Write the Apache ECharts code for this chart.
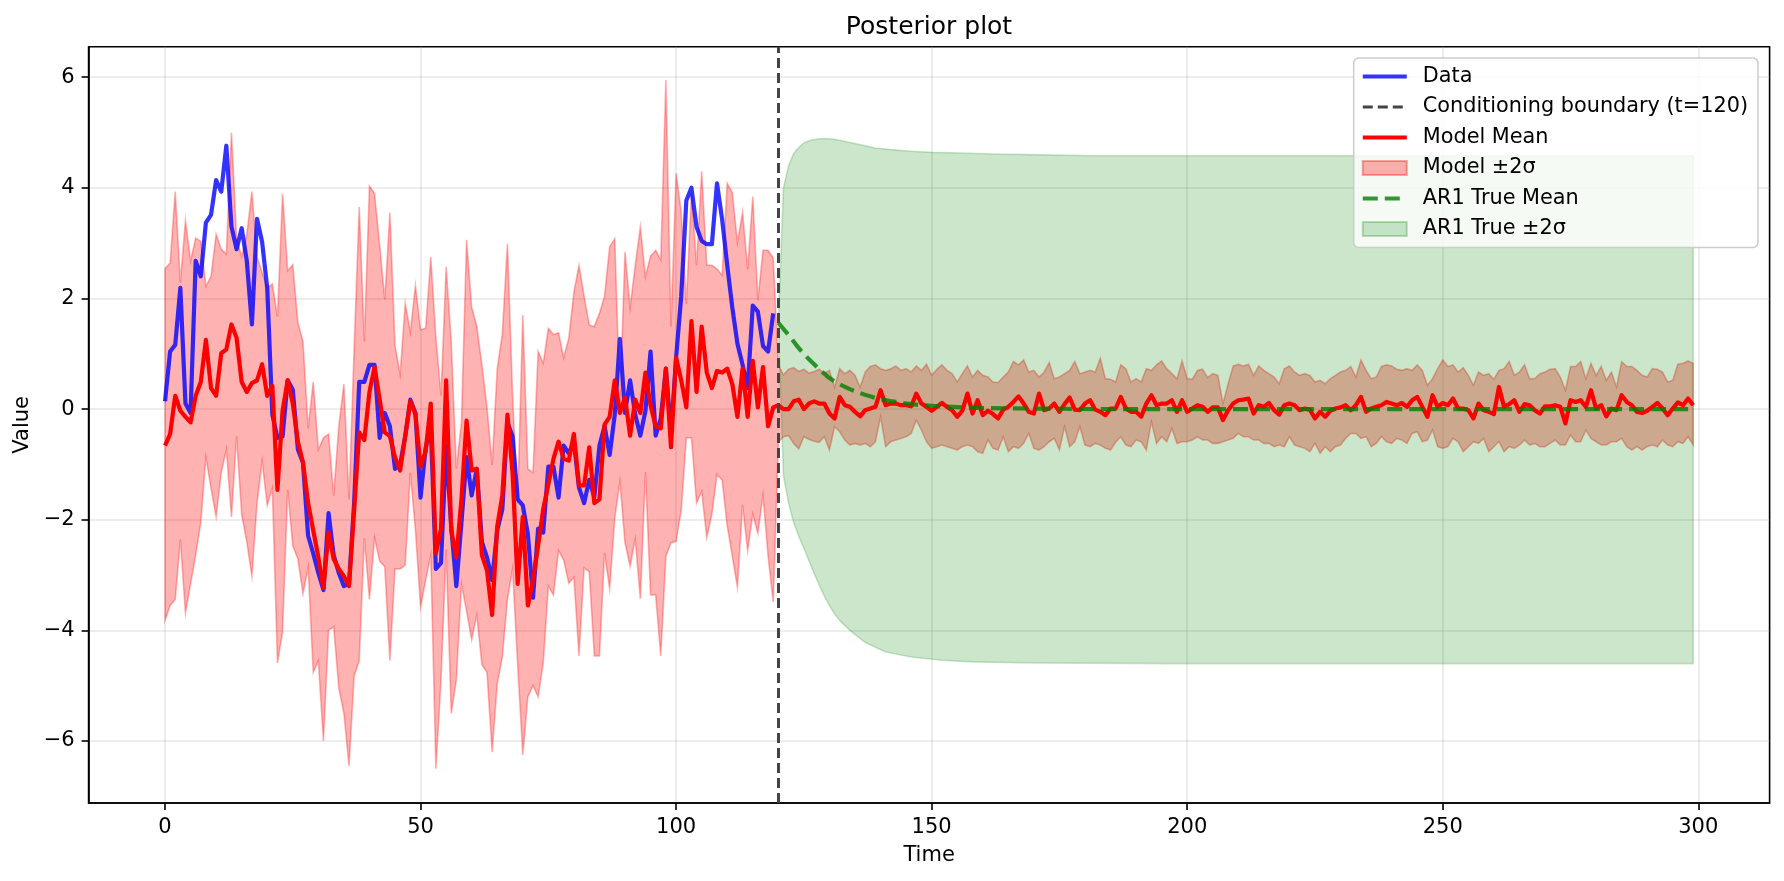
<!DOCTYPE html>
<html>
<head>
<meta charset="utf-8">
<script src="https://cdn.jsdelivr.net/npm/echarts@6/dist/echarts.min.js"></script>
<style>
html, body { margin: 0; padding: 0; background: #fff; }
#chart { width: 1784px; height: 881px; }
</style>
</head>
<body>
<div id="chart"></div>
<script>
var FONT = 'DejaVu Sans';

var xTicks = [0, 50, 100, 150, 200, 250, 300];
var yTicks = [-6, -4, -2, 0, 2, 4, 6];
var boundaryT = 120;

// observed series, t = 0..119
var observed = [
  0.14, 1.04, 1.16, 2.19, 0.1, -0.07, 2.68, 2.4, 3.37, 3.51,
  4.14, 3.93, 4.76, 3.3, 2.89, 3.27, 2.68, 1.53, 3.44, 3.02,
  2.19, -0.1, -0.52, -0.49, 0.52, 0.35, -0.73, -0.97, -2.29, -2.61,
  -2.96, -3.27, -1.88, -2.64, -2.96, -3.2, -3.16, -1.7, 0.49, 0.49,
  0.8, 0.8, -0.52, -0.07, -0.31, -1.08, -1.01, -0.49, 0.17, -0.07,
  -1.6, -0.7, -0.31, -2.89, -2.78, -0.66, -2.12, -3.2, -2.05, -0.87,
  -1.56, -1.08, -2.4, -2.68, -3.09, -2.19, -1.81, -0.24, -0.49, -1.63,
  -1.74, -2.26, -3.41, -2.16, -2.23, -1.04, -1.04, -1.6, -0.66, -0.8,
  -0.59, -1.42, -1.7, -1.28, -1.59, -0.66, -0.31, -0.83, -0.1, 1.27,
  -0.07, 0.52, -0.1, -0.48, -0.03, 1.04, -0.48, -0.17, 0.73, -0.45,
  0.93, 2.04, 3.77, 4.0, 3.29, 3.04, 2.98, 2.98, 4.08, 3.43,
  2.6, 1.83, 1.18, 0.8, 0.38, 1.87, 1.76, 1.14, 1.04, 1.73
];

// model posterior mean, t = 0..299
var modelMean = [
  -0.66, -0.45, 0.24, -0.03, -0.14, -0.24, 0.24, 0.49, 1.25, 0.38,
  0.24, 1.01, 1.08, 1.53, 1.29, 0.49, 0.31, 0.47, 0.52, 0.81,
  0.24, 0.42, -1.46, -0.03, 0.52, 0.1, -0.59, -0.97, -1.7, -2.19,
  -2.68, -3.23, -2.23, -2.71, -2.89, -3.02, -3.2, -1.84, -0.42, -0.56,
  0.31, 0.76, 0.17, -0.42, -0.49, -0.87, -1.11, -0.49, 0.14, -0.1,
  -1.04, -0.76, 0.1, -2.61, -2.16, 0.52, -2.19, -2.68, -1.63, -0.21,
  -1.11, -1.08, -2.64, -2.92, -3.72, -2.12, -1.56, -0.1, -1.15, -3.16,
  -1.95, -3.55, -3.09, -2.47, -1.81, -1.36, -0.9, -0.59, -0.9, -0.93,
  -0.45, -1.38, -1.38, -0.69, -1.7, -1.63, -0.28, -0.14, 0.52, -0.07,
  0.21, -0.48, 0.17, -0.07, 0.66, 0.07, -0.31, -0.35, 0.73, -0.69,
  0.93, 0.52, 0.03, 1.59, 0.31, 1.49, 0.66, 0.38, 0.69, 0.66,
  0.73, 0.45, -0.14, 0.73, -0.14, 0.87, 0.03, 0.76, -0.31, 0.03,
  0.07, 0.0, 0.0, 0.14, 0.17, 0.0, 0.1, 0.14, 0.1, 0.1,
  -0.08, -0.17, 0.22, 0.07, 0.04, -0.05, -0.13, -0.02, 0.01, 0.04,
  0.34, 0.07, 0.1, 0.1, 0.07, 0.07, 0.05, 0.28, 0.1, 0.04,
  -0.03, 0.04, 0.11, 0.04, -0.02, -0.14, -0.03, 0.28, -0.08, 0.16,
  -0.11, -0.03, -0.09, -0.17, -0.01, 0.04, 0.13, 0.23, 0.1, -0.05,
  -0.08, 0.28, -0.02, 0.01, 0.1, -0.05, 0.09, 0.21, -0.01, -0.02,
  0.1, 0.16, -0.01, -0.05, -0.11, 0.01, 0.01, 0.22, 0.01, -0.05,
  -0.05, -0.14, 0.1, 0.25, 0.07, 0.1, 0.1, 0.16, -0.05, 0.16,
  -0.05, 0.01, 0.07, 0.04, -0.05, 0.03, 0.03, -0.2, -0.02, 0.1,
  0.16, 0.17, 0.19, -0.08, 0.07, 0.04, 0.11, -0.02, -0.1, 0.07,
  0.1, 0.07, -0.02, 0.01, -0.01, -0.17, -0.05, -0.14, -0.03, 0.01,
  0.03, 0.07, -0.02, 0.07, 0.22, -0.05, 0.01, 0.04, 0.07, 0.13,
  0.1, 0.07, 0.11, 0.04, 0.16, 0.22, 0.04, -0.14, 0.25, 0.04,
  0.11, 0.07, 0.19, 0.01, 0.01, -0.02, -0.17, 0.1, -0.02, -0.05,
  -0.09, 0.4, 0.04, 0.09, 0.16, -0.05, 0.09, 0.07, -0.02, -0.08,
  0.05, 0.05, 0.07, 0.04, -0.26, 0.16, 0.13, 0.16, 0.04, 0.34,
  0.01, 0.07, -0.13, 0.01, -0.02, 0.25, 0.13, 0.07, -0.05, -0.07,
  -0.03, 0.04, 0.11, 0.01, -0.11, 0.01, 0.12, 0.07, 0.19, 0.07
];

// model mean + 2 sigma, t = 0..299
var modelUpper = [
  2.54, 2.64, 3.93, 2.29, 3.41, 2.68, 3.09, 3.03, 2.22, 2.4,
  3.16, 2.89, 2.8, 5.0, 3.09, 2.75, 3.16, 3.93, 2.75, 2.47,
  2.19, 2.26, 1.67, 3.89, 2.5, 2.61, 1.56, 1.22, -0.35, 0.49,
  -0.73, -0.52, -0.45, -1.56, -0.31, 0.45, -1.63, 1.08, 3.65, 1.22,
  4.03, 3.89, 2.96, 1.98, 3.55, 1.15, 0.63, 1.91, 1.39, 2.23,
  1.43, 1.46, 2.75, 1.29, 0.24, 2.57, 1.22, -1.08, -0.24, 3.06,
  1.84, 1.5, 0.8, 0.03, -1.01, 0.73, 1.36, 2.99, 0.24, -1.7,
  1.7, -1.08, -1.15, 1.04, 0.83, 1.46, 1.35, 1.38, 0.93, 1.28,
  2.11, 2.6, 2.04, 1.52, 1.49, 1.73, 2.04, 2.94, 3.08, 0.1,
  2.84, 1.83, 2.6, 3.29, 2.39, 2.77, 2.87, 2.7, 5.95, 1.49,
  4.26, 3.56, 1.9, 3.9, 2.6, 4.3, 2.6, 2.6, 2.53, 2.42,
  4.08, 3.91, 3.01, 3.56, 2.53, 3.84, 1.97, 2.87, 2.87, 2.73,
  0.8, 0.62, 0.72, 0.75, 0.68, 0.72, 0.65, 0.68, 0.72, 0.65,
  0.7, 0.4, 0.73, 0.64, 0.7, 0.61, 0.4, 0.67, 0.77, 0.8,
  0.73, 0.7, 0.73, 0.78, 0.7, 0.73, 0.67, 0.78, 0.7, 0.81,
  0.61, 0.72, 0.8, 0.7, 0.64, 0.49, 0.64, 0.78, 0.58, 0.7,
  0.61, 0.58, 0.49, 0.48, 0.58, 0.67, 0.86, 0.8, 0.89, 0.67,
  0.7, 0.58, 0.67, 0.84, 0.55, 0.58, 0.64, 0.7, 0.86, 0.64,
  0.67, 0.7, 0.67, 0.92, 0.55, 0.54, 0.49, 0.8, 0.73, 0.49,
  0.55, 0.49, 0.73, 0.7, 0.8, 0.87, 0.73, 0.64, 0.55, 0.87,
  0.55, 0.54, 0.7, 0.72, 0.57, 0.64, 0.61, 0.1, 0.46, 0.78,
  0.81, 0.78, 0.81, 0.61, 0.78, 0.7, 0.64, 0.58, 0.46, 0.73,
  0.78, 0.67, 0.61, 0.64, 0.61, 0.49, 0.52, 0.46, 0.55, 0.61,
  0.67, 0.7, 0.77, 0.58, 0.89, 0.7, 0.55, 0.58, 0.77, 0.8,
  0.78, 0.72, 0.7, 0.73, 0.7, 0.8, 0.7, 0.43, 0.55, 0.73,
  0.89, 0.77, 0.8, 0.67, 0.75, 0.61, 0.43, 0.67, 0.61, 0.64,
  0.54, 0.7, 0.73, 0.86, 0.61, 0.67, 0.8, 0.55, 0.55, 0.64,
  0.67, 0.72, 0.73, 0.58, 0.34, 0.77, 0.77, 0.86, 0.55, 0.83,
  0.61, 0.77, 0.52, 0.67, 0.4, 0.86, 0.77, 0.77, 0.7, 0.61,
  0.58, 0.73, 0.72, 0.67, 0.49, 0.52, 0.81, 0.83, 0.87, 0.83
];

// model mean - 2 sigma, t = 0..299
var modelLower = [
  -3.82, -3.55, -3.44, -2.36, -3.69, -3.16, -2.64, -2.05, -0.87, -1.43,
  -1.95, -1.15, -0.73, -1.95, -0.49, -1.91, -2.4, -3.02, -1.71, -0.94,
  -1.74, -1.43, -4.59, -4.03, -1.46, -2.47, -2.71, -3.34, -2.85, -4.76,
  -4.55, -6.0, -4.0, -3.93, -5.04, -5.5, -6.45, -4.83, -4.55, -2.33,
  -3.44, -2.33, -2.75, -2.85, -4.55, -2.89, -2.89, -2.82, -1.15, -2.19,
  -3.58, -3.09, -2.64, -6.5, -4.9, -2.54, -5.5, -4.9, -3.16, -3.65,
  -4.17, -3.72, -4.62, -4.76, -6.2, -4.97, -4.48, -3.44, -2.89, -4.62,
  -6.25, -5.2, -5.0, -5.2, -4.6, -3.2, -3.36, -2.56, -2.73, -3.15,
  -3.04, -4.46, -2.87, -2.94, -4.46, -4.46, -2.6, -3.25, -1.97, -1.31,
  -2.42, -2.84, -2.35, -3.43, -1.14, -3.36, -3.36, -4.46, -2.66, -2.42,
  -2.39, -1.83, -0.52, -0.52, -1.7, -1.49, -2.32, -1.9, -1.18, -1.28,
  -2.11, -2.66, -3.22, -1.73, -2.56, -1.9, -2.25, -1.56, -2.66, -3.49,
  -0.6, -0.5, -0.48, -0.62, -0.72, -0.5, -0.55, -0.58, -0.6, -0.5,
  -0.74, -0.32, -0.41, -0.56, -0.65, -0.62, -0.65, -0.62, -0.68, -0.59,
  -0.14, -0.68, -0.59, -0.56, -0.53, -0.5, -0.44, -0.2, -0.38, -0.59,
  -0.71, -0.68, -0.65, -0.68, -0.71, -0.74, -0.68, -0.65, -0.68, -0.77,
  -0.8, -0.56, -0.71, -0.74, -0.5, -0.77, -0.68, -0.71, -0.62, -0.44,
  -0.71, -0.74, -0.68, -0.59, -0.53, -0.74, -0.32, -0.68, -0.59, -0.32,
  -0.65, -0.68, -0.62, -0.65, -0.71, -0.74, -0.6, -0.5, -0.65, -0.68,
  -0.56, -0.59, -0.74, -0.23, -0.62, -0.5, -0.59, -0.35, -0.62, -0.59,
  -0.59, -0.56, -0.5, -0.56, -0.56, -0.62, -0.62, -0.59, -0.56, -0.53,
  -0.44, -0.5, -0.5, -0.56, -0.56, -0.62, -0.62, -0.68, -0.65, -0.68,
  -0.5, -0.65, -0.68, -0.71, -0.77, -0.62, -0.8, -0.68, -0.77, -0.68,
  -0.65, -0.53, -0.44, -0.44, -0.53, -0.5, -0.68, -0.62, -0.5, -0.59,
  -0.62, -0.53, -0.56, -0.62, -0.44, -0.41, -0.59, -0.56, -0.38, -0.68,
  -0.71, -0.68, -0.53, -0.59, -0.77, -0.68, -0.59, -0.62, -0.53, -0.77,
  -0.68, -0.59, -0.77, -0.68, -0.71, -0.65, -0.56, -0.65, -0.62, -0.68,
  -0.68, -0.62, -0.56, -0.65, -0.65, -0.47, -0.59, -0.59, -0.38, -0.53,
  -0.59, -0.65, -0.65, -0.59, -0.59, -0.53, -0.68, -0.74, -0.68, -0.74,
  -0.68, -0.65, -0.68, -0.56, -0.65, -0.68, -0.59, -0.62, -0.5, -0.65
];

// AR(1) true mean and +-2 sigma after the boundary, read as [t, value]
var ar1Mean = [
  [120, 1.56], [121, 1.45], [122, 1.34], [123, 1.22], [124, 1.1], [125, 1.0],
  [126, 0.9], [127, 0.81], [128, 0.72], [129, 0.64], [130, 0.56], [132, 0.45],
  [134, 0.36], [136, 0.29], [138, 0.23], [140, 0.18], [143, 0.13], [146, 0.09],
  [150, 0.06], [155, 0.035], [160, 0.02], [170, 0.01], [185, 0.0], [299, 0.0]
];
var ar1Upper = [
  [120, 1.56], [121, 4.0], [122, 4.4], [123, 4.62], [124, 4.73], [125, 4.81],
  [126, 4.85], [127, 4.87], [128, 4.885], [129, 4.89], [130, 4.885], [131, 4.875],
  [132, 4.86], [134, 4.82], [136, 4.78], [139, 4.72], [142, 4.69], [146, 4.66],
  [150, 4.64], [156, 4.63], [162, 4.61], [169, 4.6], [182, 4.58], [299, 4.58]
];
var ar1Lower = [
  [120, 1.56], [121, -1.2], [122, -1.7], [123, -2.05], [124, -2.3], [125, -2.52],
  [126, -2.74], [127, -2.97], [128, -3.18], [129, -3.38], [130, -3.55], [131, -3.7],
  [132, -3.82], [134, -4.0], [137, -4.22], [141, -4.39], [146, -4.48], [152, -4.54],
  [158, -4.57], [170, -4.59], [197, -4.6], [299, -4.6]
];

function withTime(values) {
  return values.map(function (v, i) { return [i, v]; });
}

// filled region between an upper and a lower curve, placed through the axes
function bandSeries(name, upperPts, lowerPts, fill, edge, z) {
  return {
    type: 'custom',
    name: name,
    z: z,
    silent: true,
    clip: true,
    data: [upperPts[0]],
    itemStyle: { color: fill, borderColor: edge, borderWidth: 1.6 },
    renderItem: function (params, api) {
      if (params.dataIndex !== 0) return null;
      var top = upperPts.map(function (p) { return api.coord(p); });
      var bottom = lowerPts.map(function (p) { return api.coord(p); }).reverse();
      return {
        type: 'polygon',
        shape: { points: top.concat(bottom) },
        style: { fill: fill, stroke: edge, lineWidth: 1.6 }
      };
    }
  };
}

var chart = echarts.init(document.getElementById('chart'));

var axisText = { fontFamily: FONT, fontSize: 21, color: '#000' };
var noMarker = { opacity: 0 };

var option = {
  animation: false,
  backgroundColor: '#ffffff',
  textStyle: { fontFamily: FONT },
  title: {
    text: 'Posterior plot',
    left: 929,
    top: 15,
    padding: 0,
    textAlign: 'center',
    textStyle: { fontFamily: FONT, fontSize: 25, fontWeight: 'normal', color: '#000' }
  },
  grid: {
    left: 88.6, right: 14.4, top: 46.7, bottom: 78,
    show: true, borderColor: '#000', borderWidth: 1.6, backgroundColor: 'transparent'
  },
  legend: {
    orient: 'vertical',
    right: 26,
    top: 58,
    itemWidth: 44,
    itemHeight: 14,
    itemGap: 9.5,
    padding: [8, 10, 8, 7],
    backgroundColor: 'rgba(255,255,255,0.8)',
    borderColor: '#cccccc',
    borderWidth: 1.5,
    borderRadius: 5,
    textStyle: { fontFamily: FONT, fontSize: 20.8, color: '#000', lineHeight: 21, padding: [0, 0, 0, 11] },
    data: [
      { name: 'Data', itemStyle: noMarker,
        lineStyle: { color: 'rgba(0,0,255,0.8)', width: 4.2 } },
      { name: 'Conditioning boundary (t=120)', itemStyle: noMarker,
        lineStyle: { color: '#444444', width: 3, type: [10, 5] } },
      { name: 'Model Mean', itemStyle: noMarker,
        lineStyle: { color: '#ff0000', width: 4.2 } },
      { name: 'Model ±2σ', icon: 'rect',
        itemStyle: { color: 'rgba(255,0,0,0.3)', borderColor: 'rgba(255,0,0,0.35)', borderWidth: 2 } },
      { name: 'AR1 True Mean', itemStyle: noMarker,
        lineStyle: { color: 'rgba(0,128,0,0.8)', width: 4.2, type: [15, 7] } },
      { name: 'AR1 True ±2σ', icon: 'rect',
        itemStyle: { color: 'rgba(0,128,0,0.2)', borderColor: 'rgba(0,128,0,0.25)', borderWidth: 2 } }
    ]
  },
  xAxis: {
    type: 'value',
    min: -14.95,
    max: 313.95,
    splitNumber: 6,
    name: 'Time',
    nameLocation: 'middle',
    nameGap: 42,
    nameTextStyle: axisText,
    axisLine: { show: true, onZero: false, lineStyle: { color: '#000', width: 1.6 } },
    axisTick: { show: true, customValues: xTicks, length: 7, lineStyle: { color: '#000', width: 1.6 } },
    axisLabel: { customValues: xTicks, margin: 14, fontFamily: FONT, fontSize: 21, color: '#000' },
    splitLine: { show: true, lineStyle: { color: 'rgba(176,176,176,0.3)', width: 1.6 } }
  },
  yAxis: {
    type: 'value',
    min: -7.12,
    max: 6.55,
    splitNumber: 7,
    name: 'Value',
    nameLocation: 'middle',
    nameGap: 53,
    nameTextStyle: axisText,
    axisLine: { show: true, onZero: false, lineStyle: { color: '#000', width: 1.6 } },
    axisTick: { show: true, customValues: yTicks, length: 7, lineStyle: { color: '#000', width: 1.6 } },
    axisLabel: {
      customValues: yTicks, margin: 14, fontFamily: FONT, fontSize: 21, color: '#000',
      formatter: function (v) { return String(v).replace('-', '\u2212'); }
    },
    splitLine: { show: true, lineStyle: { color: 'rgba(176,176,176,0.3)', width: 1.6 } }
  },
  series: [
    bandSeries('Model ±2σ', withTime(modelUpper), withTime(modelLower),
      'rgba(255,0,0,0.3)', 'rgba(255,0,0,0.3)', 1),
    bandSeries('AR1 True ±2σ', ar1Upper, ar1Lower,
      'rgba(0,128,0,0.2)', 'rgba(0,128,0,0.2)', 1.5),
    {
      type: 'line', name: 'Data', z: 3,
      data: withTime(observed),
      symbol: 'none', showSymbol: false,
      lineStyle: { color: 'rgba(0,0,255,0.8)', width: 4.2, join: 'round' },
      itemStyle: { color: 'rgba(0,0,255,0.8)' }
    },
    {
      type: 'line', name: 'Model Mean', z: 4,
      data: withTime(modelMean),
      symbol: 'none', showSymbol: false,
      lineStyle: { color: '#ff0000', width: 4.2, join: 'round' },
      itemStyle: { color: '#ff0000' }
    },
    {
      type: 'line', name: 'AR1 True Mean', z: 5,
      data: ar1Mean,
      smooth: true,
      symbol: 'none', showSymbol: false,
      lineStyle: { color: 'rgba(0,128,0,0.8)', width: 4.2, type: [15, 7] },
      itemStyle: { color: 'rgba(0,128,0,0.8)' }
    },
    {
      type: 'line', name: 'Conditioning boundary (t=120)', z: 6,
      data: [],
      symbol: 'none',
      lineStyle: { color: '#444444', width: 3, type: [10, 5] },
      itemStyle: { color: '#444444' },
      markLine: {
        silent: true,
        symbol: ['none', 'none'],
        label: { show: false },
        lineStyle: { color: '#444444', width: 3, type: [10, 5] },
        data: [{ xAxis: boundaryT }]
      }
    }
  ]
};

chart.setOption(option);
</script>
</body>
</html>
